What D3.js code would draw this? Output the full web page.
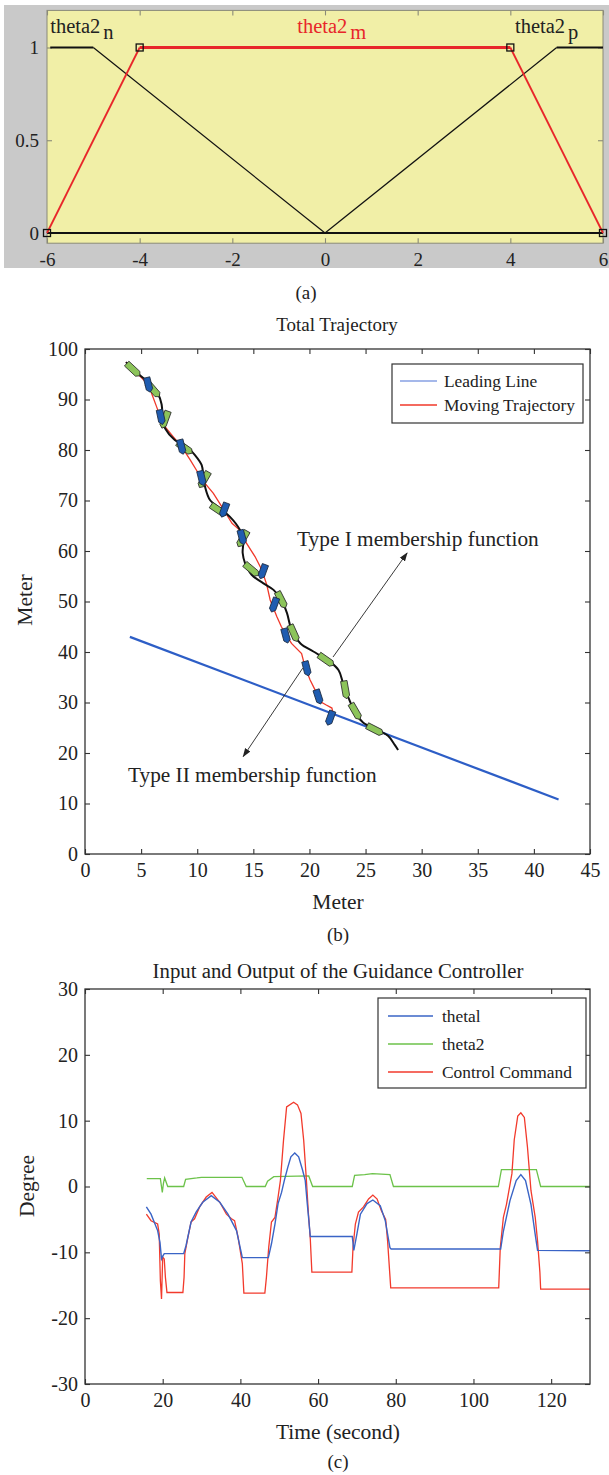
<!DOCTYPE html>
<html><head><meta charset="utf-8">
<script src="https://cdn.jsdelivr.net/npm/d3@7"></script>
<style>
body{margin:0;background:#fff;}
svg text{font-family:"Liberation Serif","Times New Roman",serif;fill:#222;}
</style></head><body>
<svg id="chart" width="609" height="1475"></svg>
<script>
// ---------------- Panel (a): membership functions ----------------
const mfXTicks = [-6,-4,-2,0,2,4,6];
const mfYTicks = [0,0.5,1];
const theta2N_x = [-5.93,-5,0,6];
const theta2N_y = [1,1,0,0];
const theta2P_x = [-6,0,5,6];
const theta2P_y = [0,0,1,1];
const theta2M_x = [-6,-4,4,6];
const theta2M_y = [0,1,1,0];
const mfLabels = [
  {name:"theta2", sub:"n", x:-5.93, color:"#222"},
  {name:"theta2", sub:"m", x:-0.6, color:"#e8262a"},
  {name:"theta2", sub:"p", x:4.1, color:"#222"}
];

// ---------------- Panel (b): trajectories ----------------
const trajXTicks = [0,5,10,15,20,25,30,35,40,45];
const trajYTicks = [0,10,20,30,40,50,60,70,80,90,100];
const leadingLine_x = [4,42.2];
const leadingLine_y = [43,10.8];
const typeII_x = [3.65,5.0,5.65,5.94,6.54,7.13,7.87,8.6,9.36,10.1,10.7,11.44,12.3,13.1,13.96,14.4,15.15,15.75,16.2,16.5,17.1,17.5,18.4,19.3,19.6,20.05,20.5,20.95,21.5,22.0,22.1];
const typeII_y = [97.4,94.4,92.9,91.2,87.6,84.6,82.6,80.7,78.1,75.4,73.4,71.4,68.4,65.5,63.8,61.5,58.9,56.3,53.3,50.3,47,45,41.7,39.7,37.1,34.5,32.5,30.2,29.5,28.9,27.9];
const typeI_x = [3.65,5.05,5.8,6.5,6.83,6.92,7.13,8.0,9.06,9.8,10.4,10.55,10.7,11.14,12.03,12.9,13.8,14.1,14.05,14.26,14.85,15.9,16.8,17.5,18.0,18.4,19.2,20.35,21.8,22.6,23.0,23.5,24.1,24.8,26.0,27.0,27.6,27.9];
const typeI_y = [97.4,94.5,93.2,91.2,89,86,84.3,82,80.7,79.0,77,74.7,72.7,70.1,68.4,66.8,64.2,62.2,59.6,57.6,55.3,53.6,52.3,50.3,47.7,44.4,41.7,40.1,38.1,36.4,33.8,30.8,27.9,26.0,24.6,23.4,21.6,20.6];
// vessel markers: position and heading (deg)
const greenBoat_x = [4.3,6.1,7.13,8.9,10.6,11.9,14.05,14.85,17.5,18.6,21.5,23.2,24.1,25.85];
const greenBoat_y = [95.9,91.9,86,80.4,74.1,68.1,62.4,56.3,50.3,43.7,38.4,32.5,28.2,24.6];
const greenBoat_h = [-47,-41,20,-55,30,-56,30,-50,-27,-24,-55,-10,-30,-63];
const blueBoat_x = [5.65,6.77,8.6,10.4,12.4,14.0,15.85,16.85,17.9,19.76,20.8,21.85];
const blueBoat_y = [92.9,86.5,80.6,74.4,68.1,62.7,55.9,49.3,43.2,36.7,31.1,26.9];
const blueBoat_h = [-14,-12,-14,-14,20,-15,20,20,-15,-14,-18,20];
const trajLegend = ["Leading Line","Moving Trajectory"];
const annotText = ["Type I membership function","Type II membership function"];
const annotText_x = [18.9,3.83];
const annotText_y = [61,14.3];
const arrowFrom_x = [22.1,19.4];
const arrowFrom_y = [39,36.8];
const arrowTo_x = [28.7,14.1];
const arrowTo_y = [59.6,19.3];

// ---------------- Panel (c): controller I/O ----------------
const ctrlXTicks = [0,20,40,60,80,100,120];
const ctrlYTicks = [-30,-20,-10,0,10,20,30];
const thetal_t = [15.8,17,18.7,19.3,19.7,20.1,20.4,25.4,26,27.3,28.6,30.3,32.5,34.7,36.8,39,40.5,47.2,48,48.9,49.7,50.6,51.3,52.2,53,54,55,56,56.7,57.2,57.6,58,68.8,69.2,70,70.9,72.6,74.1,76,77.3,78.5,78.8,107,107.7,109.4,111,112.2,113.4,114.8,115.9,116.5,130];
const thetal_v = [-3.1,-4.2,-6.7,-8.5,-11,-10.5,-10.2,-10.2,-9,-5.4,-3.9,-2.4,-1.4,-2.4,-4.2,-6.7,-10.8,-10.8,-8.7,-5.7,-2.6,-0.9,0.9,2.9,4.5,5.1,4.5,2.5,0.9,-2.5,-5,-7.6,-7.6,-9.7,-7.2,-4.2,-2.6,-2.05,-2.9,-5.2,-9.3,-9.5,-9.5,-6.8,-2.15,0.9,1.8,0.9,-2.7,-7.3,-9.7,-9.75];
const theta2_t = [15.9,19.4,19.9,20.2,20.5,21.3,25.4,25.9,28.8,30,40.4,41.5,46.4,47,48.6,57.6,58.6,68.8,69.4,72,74,78.5,79.4,106.4,107.2,116.2,117.3,130];
const theta2_v = [1.2,1.2,-0.9,0.5,1.3,0,0,1.1,1.3,1.4,1.4,0,0,0.8,1.5,1.6,0,0,1.7,1.8,1.95,1.8,0,0,2.55,2.55,0,0];
const command_t = [15.8,17,18.7,19.1,19.4,19.7,20,20.4,20.7,21.1,25.2,25.5,25.7,26.5,27.3,28.2,29.5,31.2,32.7,34.7,36.4,37.7,38.5,39.4,40.5,40.9,46.3,46.7,47.3,48,48.9,49.7,50.3,51.1,51.9,53.7,54.7,55.6,56.3,57,57.5,58,58.4,68.7,69,69.6,70.4,71.7,73,74.1,75.2,76.3,77.4,77.9,78.7,106.5,106.9,107.7,108.5,109.9,110.5,111.4,112.2,113.1,113.9,114.8,115.9,116.5,117.1,117.3,130];
const command_v = [-4.2,-5.2,-5.7,-7.2,-14.3,-17.1,-10.7,-11,-13.8,-16.1,-16.1,-13.8,-10.2,-7.7,-5.4,-4.9,-3.1,-1.6,-0.9,-2.4,-4.2,-4.9,-5.2,-7.7,-11.7,-16.2,-16.2,-13.8,-9.2,-5.4,-4.7,-1.6,0.9,7,12.1,12.8,12.4,11.1,7,0.9,-4,-8,-13,-13,-9.2,-5.7,-3.9,-3.1,-1.9,-1.3,-1.9,-3.7,-5,-8.3,-15.4,-15.4,-9.3,-4.7,-2.7,1.95,7.1,10.7,11.2,10.5,6,-0.6,-4.7,-8.3,-13,-15.6,-15.6];
const ctrlLegend = ["thetal","theta2","Control Command"];

// =================================================================
const svg = d3.select("#chart");
const zip = (a,b) => a.map((v,i)=>[v,b[i]]);
const SERIF = '"Liberation Serif","Times New Roman",serif';
const plain = d => String(d);

function boxAxes(g, xs, ys, xt, yt, opt){
  const tl = opt.tick || 5;
  const fs = opt.fs || 20;
  const col = opt.col || "#333";
  const b = g.append("g").attr("transform",`translate(0,${ys.range()[0]})`)
    .call(d3.axisBottom(xs).tickValues(xt).tickSizeInner(-tl).tickSizeOuter(0).tickPadding(opt.xpad||10).tickFormat(plain));
  const t = g.append("g").attr("transform",`translate(0,${ys.range()[1]})`)
    .call(d3.axisTop(xs).tickValues(xt).tickSizeInner(-tl).tickSizeOuter(0).tickFormat(""));
  const l = g.append("g").attr("transform",`translate(${xs.range()[0]},0)`)
    .call(d3.axisLeft(ys).tickValues(yt).tickSizeInner(-tl).tickSizeOuter(0).tickPadding(opt.ypad||7).tickFormat(plain));
  const r = g.append("g").attr("transform",`translate(${xs.range()[1]},0)`)
    .call(d3.axisRight(ys).tickValues(yt).tickSizeInner(-tl).tickSizeOuter(0).tickFormat(""));
  [b,t,l,r].forEach(a=>{
    a.attr("font-family",SERIF).attr("font-size",fs);
    a.select(".domain").remove();
    a.selectAll(".tick line").attr("stroke",opt.tickCol||col).attr("stroke-width",1.1);
    a.selectAll("text").attr("font-size",fs).attr("fill","#222").style("font-family",SERIF);
  });
  g.append("rect").attr("x",xs.range()[0]).attr("y",ys.range()[1])
    .attr("width",xs.range()[1]-xs.range()[0]).attr("height",ys.range()[0]-ys.range()[1])
    .attr("fill","none").attr("stroke",col).attr("stroke-width",opt.sw||1.3);
}

// ---------------- Panel (a) ----------------
{
  const g = svg.append("g");
  const x = d3.scaleLinear().domain([-6,6]).range([47,603]);
  const y = d3.scaleLinear().domain([0,1]).range([233,47.5]);
  g.append("rect").attr("x",4).attr("y",5).attr("width",605).attr("height",263).attr("fill","#c9c9c9");
  g.append("rect").attr("x",x(-6)).attr("y",y(1.2)).attr("width",x(6)-x(-6)).attr("height",y(-0.055)-y(1.2)).attr("fill","#f1efa7");
  const xs = x.copy(); const ys = d3.scaleLinear().domain([-0.055,1.2]).range([y(-0.055),y(1.2)]);
  boxAxes(g, xs, ys, mfXTicks, mfYTicks, {fs:19, col:"#8a8a78", tickCol:"#8a8a78", sw:1, xpad:9, ypad:8});
  function segs(xa, ya, color, wFlat, wSlope){
    const pts = zip(xa,ya);
    for(let i=0;i<pts.length-1;i++){
      const a=pts[i], b=pts[i+1];
      g.append("line").attr("x1",x(a[0])).attr("y1",y(a[1])).attr("x2",x(b[0])).attr("y2",y(b[1]))
        .attr("stroke",color).attr("stroke-width", a[1]===b[1]?wFlat:wSlope);
    }
  }
  segs(theta2N_x, theta2N_y, "#111", 2.2, 1.2);
  segs(theta2P_x, theta2P_y, "#111", 2.2, 1.2);
  segs(theta2M_x, theta2M_y, "#e8262a", 3.2, 1.8);
  g.selectAll("rect.sq").data(zip(theta2M_x,theta2M_y)).enter().append("rect").attr("class","sq")
    .attr("x",d=>x(d[0])-3.5).attr("y",d=>y(d[1])-3.5).attr("width",7).attr("height",7)
    .attr("fill","none").attr("stroke","#111").attr("stroke-width",1.3);
  mfLabels.forEach(l=>{
    const t = g.append("text").attr("x",x(l.x)).attr("y",33).attr("font-size",20.5).style("fill",l.color);
    t.append("tspan").text(l.name).style("fill",l.color);
    t.append("tspan").attr("dx",3).attr("dy",6).text(l.sub).style("fill",l.color);
  });
  svg.append("text").attr("x",306).attr("y",299).attr("text-anchor","middle").attr("font-size",19).text("(a)");
}

// ---------------- Panel (b) ----------------
{
  const g = svg.append("g");
  const x = d3.scaleLinear().domain([0,45]).range([85,590]);
  const y = d3.scaleLinear().domain([0,100]).range([854,349]);
  const line = d3.line().x(d=>x(d[0])).y(d=>y(d[1]));
  g.append("path").attr("d",line(zip(leadingLine_x,leadingLine_y))).attr("fill","none").attr("stroke","#2d5ec6").attr("stroke-width",2.2);
  g.append("path").attr("d",line(zip(typeII_x,typeII_y))).attr("fill","none").attr("stroke","#f0382a").attr("stroke-width",1.3);
  g.append("path").attr("d",d3.line().curve(d3.curveCatmullRom).x(d=>x(d[0])).y(d=>y(d[1]))(zip(typeI_x,typeI_y))).attr("fill","none").attr("stroke","#111").attr("stroke-width",2);
  const boat = (L,W)=>`M${-W/2},${-L/2} L${W/2},${-L/2} L${W/2},${L/2-3} L0,${L/2} L${-W/2},${L/2-3} Z`;
  g.selectAll("path.gb").data(greenBoat_x.map((v,i)=>[v,greenBoat_y[i],greenBoat_h[i]])).enter().append("path").attr("class","gb")
    .attr("d",boat(18,6.5)).attr("transform",d=>`translate(${x(d[0])},${y(d[1])}) rotate(${d[2]})`)
    .attr("fill","#8cc45a").attr("stroke","#2b2b2b").attr("stroke-width",0.8);
  g.selectAll("path.bb").data(blueBoat_x.map((v,i)=>[v,blueBoat_y[i],blueBoat_h[i]])).enter().append("path").attr("class","bb")
    .attr("d",boat(15,6.5)).attr("transform",d=>`translate(${x(d[0])},${y(d[1])}) rotate(${d[2]})`)
    .attr("fill","#1f5cb0").attr("stroke","#1b2a40").attr("stroke-width",0.8);
  // annotations
  const defs = svg.append("defs");
  defs.append("marker").attr("id","ah").attr("viewBox","0 0 10 10").attr("refX",9).attr("refY",5)
    .attr("markerWidth",9).attr("markerHeight",9).attr("orient","auto-start-reverse").attr("markerUnits","userSpaceOnUse")
    .append("path").attr("d","M0,1.5 L10,5 L0,8.5 Z").attr("fill","#222");
  arrowFrom_x.forEach((v,i)=>{
    g.append("line").attr("x1",x(v)).attr("y1",y(arrowFrom_y[i])).attr("x2",x(arrowTo_x[i])).attr("y2",y(arrowTo_y[i]))
      .attr("stroke","#222").attr("stroke-width",0.9).attr("marker-end","url(#ah)");
  });
  annotText.forEach((s,i)=>{
    g.append("text").attr("x",x(annotText_x[i])).attr("y",y(annotText_y[i])).attr("font-size",21.3).text(s);
  });
  boxAxes(g, x, y, trajXTicks, trajYTicks, {fs:20, col:"#333", xpad:9, ypad:7});
  // legend
  const lg = g.append("g");
  lg.append("rect").attr("x",392).attr("y",364).attr("width",191).attr("height",59).attr("fill","#fff").attr("stroke","#333").attr("stroke-width",1.2);
  const lcol = ["#4d72d6","#f0382a"];
  trajLegend.forEach((s,i)=>{
    lg.append("line").attr("x1",400).attr("x2",437).attr("y1",381+i*24).attr("y2",381+i*24).attr("stroke",lcol[i]).attr("stroke-width",i?1.6:1.2);
    lg.append("text").attr("x",444).attr("y",387+i*24).attr("font-size",17.4).text(s);
  });
  svg.append("text").attr("x",337).attr("y",331).attr("text-anchor","middle").attr("font-size",19).text("Total Trajectory");
  svg.append("text").attr("x",338).attr("y",909).attr("text-anchor","middle").attr("font-size",21.5).text("Meter");
  svg.append("text").attr("transform","translate(32,600) rotate(-90)").attr("text-anchor","middle").attr("font-size",21.5).text("Meter");
  svg.append("text").attr("x",338).attr("y",941).attr("text-anchor","middle").attr("font-size",19).text("(b)");
}

// ---------------- Panel (c) ----------------
{
  const g = svg.append("g");
  const x = d3.scaleLinear().domain([0,130]).range([85,590]);
  const y = d3.scaleLinear().domain([-30,30]).range([1384,989]);
  const line = d3.line().x(d=>x(d[0])).y(d=>y(d[1]));
  const cols = ["#3a64c6","#6cc24a","#f23a2c"];
  g.append("path").attr("d",line(zip(theta2_t,theta2_v))).attr("fill","none").attr("stroke",cols[1]).attr("stroke-width",1.3);
  g.append("path").attr("d",line(zip(command_t,command_v))).attr("fill","none").attr("stroke",cols[2]).attr("stroke-width",1.3);
  g.append("path").attr("d",line(zip(thetal_t,thetal_v))).attr("fill","none").attr("stroke",cols[0]).attr("stroke-width",1.4);
  boxAxes(g, x, y, ctrlXTicks, ctrlYTicks, {fs:20, col:"#333", xpad:9, ypad:7});
  const lg = g.append("g");
  lg.append("rect").attr("x",378).attr("y",998).attr("width",208).attr("height",90).attr("fill","#fff").attr("stroke","#333").attr("stroke-width",1.2);
  ctrlLegend.forEach((s,i)=>{
    lg.append("line").attr("x1",388).attr("x2",433).attr("y1",1016+i*28).attr("y2",1016+i*28).attr("stroke",cols[i]).attr("stroke-width",1.3);
    lg.append("text").attr("x",442).attr("y",1022+i*28).attr("font-size",17.4).text(s);
  });
  svg.append("text").attr("x",338).attr("y",978).attr("text-anchor","middle").attr("font-size",20.8).text("Input and Output of the Guidance Controller");
  svg.append("text").attr("x",338).attr("y",1439).attr("text-anchor","middle").attr("font-size",21.5).text("Time (second)");
  svg.append("text").attr("transform","translate(34,1186) rotate(-90)").attr("text-anchor","middle").attr("font-size",21.5).text("Degree");
  svg.append("text").attr("x",338).attr("y",1468).attr("text-anchor","middle").attr("font-size",19).text("(c)");
}
</script>
</body></html>
